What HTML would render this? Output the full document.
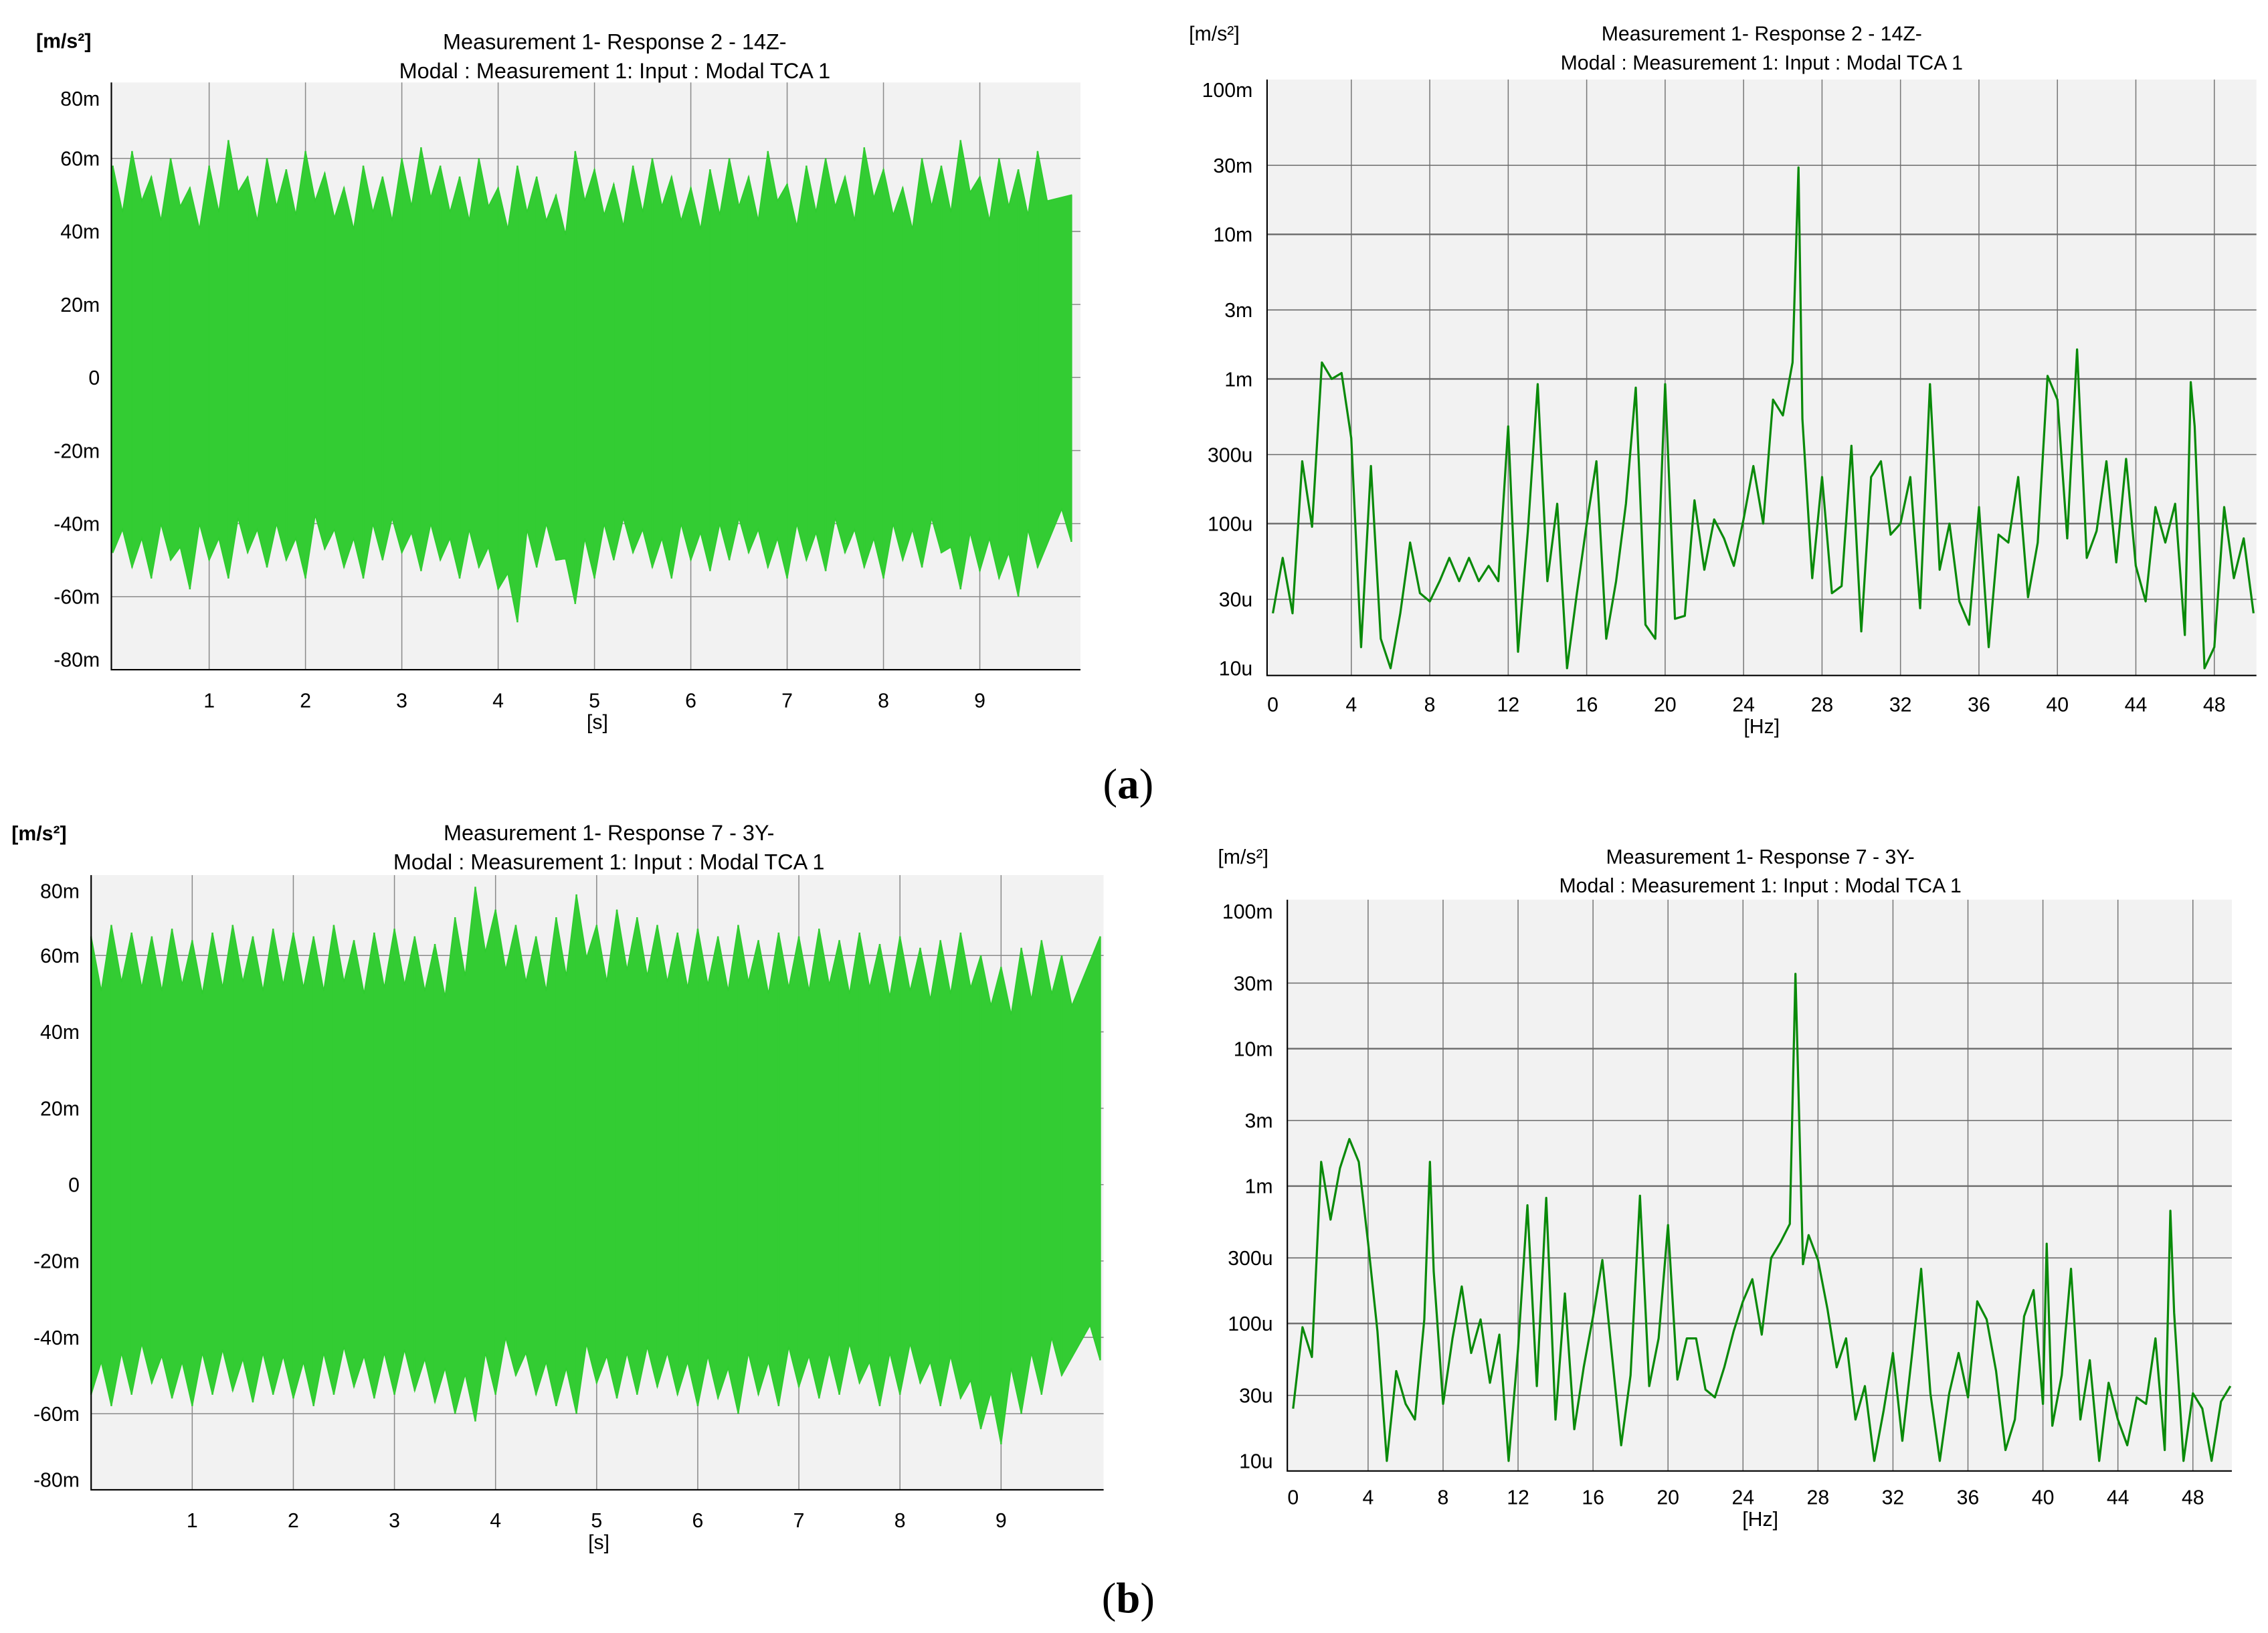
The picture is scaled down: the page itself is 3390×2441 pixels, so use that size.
<!DOCTYPE html>
<html><head><meta charset="utf-8"><style>
html,body{margin:0;padding:0;background:#fff}
svg{display:block}
text{font-family:"Liberation Sans",sans-serif;fill:#000}
</style></head><body>
<svg id="root" xmlns="http://www.w3.org/2000/svg" width="3390" height="2441" viewBox="0 0 1568 1129" preserveAspectRatio="none">
<g id="gA1"></g>
<g id="gA2"></g>
<g id="gB1"></g>
<g id="gB2"></g>
<text x="780" y="552" text-anchor="middle" style="font-family:'Liberation Serif',serif;font-size:30px">(<tspan font-weight="bold">a</tspan>)</text>
<text x="780" y="1115" text-anchor="middle" style="font-family:'Liberation Serif',serif;font-size:30px">(<tspan font-weight="bold">b</tspan>)</text>
</svg>
<script>
// ---- data ----
const timeTicks = [1,2,3,4,5,6,7,8,9];
const ampTicks = [80,60,40,20,0,-20,-40,-60,-80];
const ampTickLabels = ["80m","60m","40m","20m","0","-20m","-40m","-60m","-80m"];
const freqTicks = [0,4,8,12,16,20,24,28,32,36,40,44,48];
const logTicks = [100000,30000,10000,3000,1000,300,100,30,10];
const logTickLabels = ["100m","30m","10m","3m","1m","300u","100u","30u","10u"];

const timeA = [0,0.2,0.4,0.6,0.8,1,1.2,1.4,1.6,1.8,2,2.2,2.4,2.6,2.8,3,3.2,3.4,3.6,3.8,4,4.2,4.4,4.6,4.8,5,5.2,5.4,5.6,5.8,6,6.2,6.4,6.6,6.8,7,7.2,7.4,7.6,7.8,8,8.2,8.4,8.6,8.8,9,9.2,9.4,9.6,9.95];
const upperA = [58,62,55,60,52,58,65,55,60,57,62,56,52,58,55,60,63,58,55,60,52,58,55,50,62,57,53,58,60,55,52,57,60,55,62,53,58,60,55,63,57,52,60,58,65,55,60,57,62,50];
const lowerA = [-48,-52,-55,-50,-58,-50,-55,-48,-52,-50,-55,-47,-52,-55,-50,-48,-53,-50,-55,-52,-58,-67,-52,-50,-62,-55,-50,-48,-52,-55,-50,-53,-50,-48,-52,-55,-50,-53,-48,-52,-55,-50,-52,-48,-58,-53,-55,-60,-52,-45];
const timeB = [0,0.2,0.4,0.6,0.8,1,1.2,1.4,1.6,1.8,2,2.2,2.4,2.6,2.8,3,3.2,3.4,3.6,3.8,4,4.2,4.4,4.6,4.8,5,5.2,5.4,5.6,5.8,6,6.2,6.4,6.6,6.8,7,7.2,7.4,7.6,7.8,8,8.2,8.4,8.6,8.8,9,9.2,9.4,9.6,9.98];
const upperB = [65,68,66,65,67,64,66,68,65,67,66,65,68,64,66,67,65,63,70,78,72,68,65,70,76,68,72,70,68,66,67,65,68,64,66,65,67,64,66,63,65,62,64,66,60,57,62,64,60,65];
const lowerB = [-55,-58,-55,-52,-56,-58,-55,-54,-57,-55,-56,-58,-55,-53,-56,-55,-54,-57,-60,-62,-55,-50,-55,-58,-60,-52,-56,-55,-53,-55,-58,-56,-60,-55,-58,-53,-56,-55,-52,-58,-55,-52,-58,-56,-64,-68,-60,-55,-50,-46];

const freqA = [0,0.5,1,1.5,2,2.5,3,3.5,4,4.5,5,5.5,6,6.5,7,7.5,8,8.5,9,9.5,10,10.5,11,11.5,12,12.5,13,13.5,14,14.5,15,15.5,16,16.5,17,17.5,18,18.5,19,19.5,20,20.5,21,21.5,22,22.5,23,23.5,24,24.5,25,25.5,26,26.5,26.8,27,27.5,28,28.5,29,29.5,30,30.5,31,31.5,32,32.5,33,33.5,34,34.5,35,35.5,36,36.5,37,37.5,38,38.5,39,39.5,40,40.5,41,41.5,42,42.5,43,43.5,44,44.5,45,45.5,46,46.5,46.8,47,47.5,48,48.5,49,49.5,50];
const specA = [24,58,24,270,95,1300,1000,1100,390,14,250,16,10,24,74,33,29,40,58,40,58,40,51,40,470,13,89,920,40,137,10,33,100,270,16,40,137,870,20,16,920,22,23,145,48,107,79,51,107,250,100,720,560,1300,29000,530,42,210,33,37,345,18,210,270,84,100,210,26,920,48,100,29,20,130,14,84,74,210,31,74,1050,720,79,1600,58,89,270,54,280,51,29,130,74,137,17,950,470,10,14,130,42,79,24];
const freqB = [0,0.5,1,1.5,2,2.5,3,3.5,4,4.5,5,5.5,6,6.5,7,7.3,7.5,8,8.5,9,9.5,10,10.5,11,11.5,12,12.5,13,13.5,14,14.5,15,15.5,16,16.5,17,17.5,18,18.5,19,19.5,20,20.5,21,21.5,22,22.5,23,23.5,24,24.5,25,25.5,26,26.5,26.8,27.2,27.5,28,28.5,29,29.5,30,30.5,31,31.5,32,32.5,33,33.5,34,34.5,35,35.5,36,36.5,37,37.5,38,38.5,39,39.5,40,40.2,40.5,41,41.5,42,42.5,43,43.5,44,44.5,45,45.5,46,46.5,46.8,47,47.5,48,48.5,49,49.5,50];
const specB = [24,94,57,1500,570,1350,2200,1500,390,88,10,45,26,20,107,1500,240,26,78,186,61,107,37,83,10,65,725,35,820,20,165,17,48,113,290,61,13,42,850,35,78,520,39,78,78,33,29,48,88,145,210,83,300,390,530,35000,270,440,290,128,48,78,20,35,10,23,61,14,57,250,31,10,31,61,29,145,107,45,12,20,113,175,26,380,18,42,250,20,54,10,37,20,13,29,26,78,12,660,120,10,31,24,10,27,35];

const NS = "http://www.w3.org/2000/svg";
function mk(parent, tag, attrs, txt){
  const e = document.createElementNS(NS, tag);
  for (const k in attrs) e.setAttribute(k, attrs[k]);
  if (txt !== undefined) e.textContent = txt;
  parent.appendChild(e);
  return e;
}

function timeChart(g, cfg, times, upper, lower){
  const sx = t => cfg.x0 + t*cfg.pxs;
  const sy = v => cfg.zero - v*cfg.pxm;
  const bg = mk(g,'rect',{x:cfg.l,y:cfg.t,width:cfg.r-cfg.l,height:cfg.b-cfg.t,fill:'#f2f2f2'});
  
  
  timeTicks.forEach(t=>{
    const ln = mk(g,'line',{x1:sx(t),x2:sx(t),y1:cfg.t,y2:cfg.b,stroke:'#8a8a8a','stroke-width':0.7});
    
    
    const tk = mk(g,'text',{x:sx(t),y:cfg.xl,'text-anchor':'middle','font-size':14},String(t));
    
    
  });
  ampTicks.forEach((v,i)=>{
    if (Math.abs(v) < 80){
      const ln = mk(g,'line',{x1:cfg.l,x2:cfg.r,y1:sy(v),y2:sy(v),stroke:'#8a8a8a','stroke-width':0.7});
      
      
    }
    const ty = Math.abs(v)===80 ? (v>0 ? cfg.t+11 : cfg.b-7) : sy(v);
    const tk = mk(g,'text',{x:cfg.l-8,y:ty+5,'text-anchor':'end','font-size':14},ampTickLabels[i]);
    
    
  });
  let d = '';
  times.forEach((t,i)=>{ d += (i?'L':'M')+sx(t).toFixed(1)+','+sy(upper[i]).toFixed(1); if(i<times.length-1){ d+='L'+sx(t+0.1).toFixed(1)+','+sy(upper[i]*0.78).toFixed(1);} });
  for (let i=times.length-1;i>=0;i--){ d += 'L'+sx(times[i]).toFixed(1)+','+sy(lower[i]).toFixed(1); if(i>0){ d+='L'+sx(times[i]-0.1).toFixed(1)+','+sy(lower[i]*0.8).toFixed(1);} }
  d += 'Z';
  const sig = mk(g,'path',{d:d,fill:'#33cc33',stroke:'#2ecc2e','stroke-width':0.8});
  
  
  times.forEach((t,i)=>{
    const sp = mk(g,'line',{x1:sx(t),x2:sx(t),y1:sy(upper[i]),y2:sy(lower[i]),stroke:'#33cc33','stroke-width':1.2});
    
    
  });
  const ax = mk(g,'path',{d:`M${cfg.l},${cfg.t}V${cfg.b}H${cfg.r}`,fill:'none',stroke:'#000','stroke-width':1});
  
  
  const xt = mk(g,'text',{x:cfg.xt,y:cfg.xl+15,'text-anchor':'middle','font-size':14},'[s]');
  
  
  const yt = mk(g,'text',{x:cfg.ux,y:cfg.uy,'font-size':14,'font-weight':'bold'},'[m/s²]');
  
  
  cfg.title.forEach((s,i)=>{
    const tt = mk(g,'text',{x:cfg.tx,y:cfg.ty+i*20,'text-anchor':'middle','font-size':15},s);
    
    
  });
}

function specChart(g, cfg, freqs, vals){
  const sx = f => cfg.x0 + f*cfg.pxh;
  const sy = v => cfg.oneM - cfg.dec*Math.log10(v/1000);
  const bg = mk(g,'rect',{x:cfg.l,y:cfg.t,width:cfg.r-cfg.l,height:cfg.b-cfg.t,fill:'#f2f2f2'});
  
  
  freqTicks.forEach(f=>{
    if (f>0){
      const ln = mk(g,'line',{x1:sx(f),x2:sx(f),y1:cfg.t,y2:cfg.b,stroke:'#777','stroke-width':0.7});
      
      
    }
    const tk = mk(g,'text',{x:sx(f),y:cfg.xl,'text-anchor':'middle','font-size':14},String(f));
    
    
  });
  logTicks.forEach((v,i)=>{
    if (v>10 && v<100000){
      const ln = mk(g,'line',{x1:cfg.l,x2:cfg.r,y1:sy(v),y2:sy(v),stroke:'#6a6a6a','stroke-width':(i%2===0?1.1:0.7)});
      
      
    }
    const tk = mk(g,'text',{x:cfg.l-10,y:sy(v)+5,'text-anchor':'end','font-size':14},logTickLabels[i]);
    
    
  });
  const pts = freqs.map((f,i)=>sx(f).toFixed(1)+','+Math.min(cfg.b, sy(vals[i])).toFixed(1)).join(' ');
  const pl = mk(g,'polyline',{points:pts,fill:'none',stroke:'#0a8a0a','stroke-width':1.5,'stroke-linejoin':'round'});
  
  
  const ax = mk(g,'path',{d:`M${cfg.l},${cfg.t}V${cfg.b}H${cfg.r}`,fill:'none',stroke:'#000','stroke-width':1});
  
  
  const xt = mk(g,'text',{x:cfg.xt,y:cfg.xl+15,'text-anchor':'middle','font-size':14},'[Hz]');
  
  
  const yt = mk(g,'text',{x:cfg.ux,y:cfg.uy,'font-size':14},'[m/s²]');
  
  
  cfg.title.forEach((s,i)=>{
    const tt = mk(g,'text',{x:cfg.tx,y:cfg.ty+i*20,'text-anchor':'middle','font-size':14},s);
    
    
  });
}

timeChart(document.getElementById('gA1'),
  {l:77,r:747,t:57,b:463,x0:78,pxs:66.6,zero:261,pxm:2.525,xl:489,xt:413,ux:25,uy:33,tx:425,ty:34,
   title:['Measurement 1- Response 2 - 14Z-','Modal : Measurement 1: Input : Modal TCA 1']}, timeA, upperA, lowerA);
specChart(document.getElementById('gA2'),
  {l:876,r:1560,t:55,b:467,x0:880,pxh:13.56,oneM:262,dec:100,xl:492,xt:1218,ux:822,uy:28,tx:1218,ty:28,
   title:['Measurement 1- Response 2 - 14Z-','Modal : Measurement 1: Input : Modal TCA 1']}, freqA, specA);
timeChart(document.getElementById('gB1'),
  {l:63,r:763,t:605,b:1030,x0:63,pxs:69.9,zero:819,pxm:2.64,xl:1056,xt:414,ux:8,uy:581,tx:421,ty:581,
   title:['Measurement 1- Response 7 - 3Y-','Modal : Measurement 1: Input : Modal TCA 1']}, timeB, upperB, lowerB);
specChart(document.getElementById('gB2'),
  {l:890,r:1543,t:622,b:1017,x0:894,pxh:12.96,oneM:820,dec:95,xl:1040,xt:1217,ux:842,uy:597,tx:1217,ty:597,
   title:['Measurement 1- Response 7 - 3Y-','Modal : Measurement 1: Input : Modal TCA 1']}, freqB, specB);
</script>
</body></html>
